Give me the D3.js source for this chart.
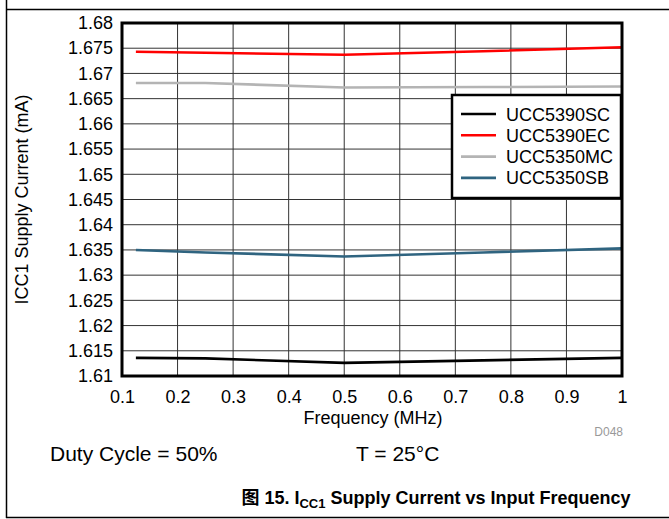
<!DOCTYPE html>
<html><head><meta charset="utf-8">
<script src="https://cdn.jsdelivr.net/npm/d3@7"></script>
<style>body{margin:0;background:#fff}svg{display:block}text{font-family:"Liberation Sans",Arial,sans-serif}</style>
</head><body><svg id="c" width="669" height="519"></svg>
<script>
const freq = [0.125, 0.25, 0.5, 0.75, 1.0];
const seriesNames = ["UCC5390SC", "UCC5390EC", "UCC5350MC", "UCC5350SB"];
const ucc5390sc = [1.6136, 1.6135, 1.6126, 1.6131, 1.6136];
const ucc5390ec = [1.6743, 1.6741, 1.6737, 1.6744, 1.6752];
const ucc5350mc = [1.6681, 1.6681, 1.6672, 1.6673, 1.6674];
const ucc5350sb = [1.6350, 1.6345, 1.6337, 1.6345, 1.6353];
const colors = ["#000000", "#ff0000", "#b4b4b4", "#2f6480"];
const xTicks = [0.1,0.2,0.3,0.4,0.5,0.6,0.7,0.8,0.9,1];
const yTicks = [1.61,1.615,1.62,1.625,1.63,1.635,1.64,1.645,1.65,1.655,1.66,1.665,1.67,1.675,1.68];
const xTickLabels = ["0.1","0.2","0.3","0.4","0.5","0.6","0.7","0.8","0.9","1"];
const yTickLabels = ["1.61","1.615","1.62","1.625","1.63","1.635","1.64","1.645","1.65","1.655","1.66","1.665","1.67","1.675","1.68"];
const allSeries = [ucc5390sc, ucc5390ec, ucc5350mc, ucc5350sb];

const svg = d3.select("#c");
const L = 122, R = 622, T = 23, B = 376;
const x = d3.scaleLinear().domain([0.1, 1]).range([L, R]);
const y = d3.scaleLinear().domain([1.61, 1.68]).range([B, T]);

// outer frame
svg.append("line").attr("x1",6.5).attr("x2",6.5).attr("y1",0).attr("y2",518).attr("stroke","#000").attr("stroke-width",1.5);
svg.append("line").attr("x1",6).attr("x2",669).attr("y1",9.5).attr("y2",9.5).attr("stroke","#000").attr("stroke-width",1.5);
svg.append("line").attr("x1",6).attr("x2",669).attr("y1",517.5).attr("y2",517.5).attr("stroke","#000").attr("stroke-width",1.5);

// grid
const g = svg.append("g");
g.selectAll(".vg").data(xTicks).join("line")
  .attr("x1",d=>x(d)).attr("x2",d=>x(d)).attr("y1",T).attr("y2",B)
  .attr("stroke","#333").attr("stroke-width",1);
g.selectAll(".hg").data(yTicks).join("line")
  .attr("x1",L).attr("x2",R).attr("y1",d=>y(d)).attr("y2",d=>y(d))
  .attr("stroke","#333").attr("stroke-width",1);

// axes labels via d3 axes
const xAxis = d3.axisBottom(x).tickValues(xTicks).tickFormat((d,i)=>xTickLabels[i]).tickSize(0).tickPadding(14);
const xa = svg.append("g").attr("transform",`translate(0,${B})`).call(xAxis);
xa.select(".domain").remove();
xa.selectAll("text").attr("font-size","18px").attr("fill","#000").attr("font-family","Liberation Sans, Arial, sans-serif");

const yAxis = d3.axisLeft(y).tickValues(yTicks).tickFormat((d,i)=>yTickLabels[i]).tickSize(0).tickPadding(9);
const ya = svg.append("g").attr("transform",`translate(${L},0)`).call(yAxis);
ya.select(".domain").remove();
ya.selectAll("text").attr("font-size","18px").attr("fill","#000").attr("font-family","Liberation Sans, Arial, sans-serif");

// lines
const line = d3.line().x((d,i)=>x(freq[i])).y(d=>y(d));
allSeries.forEach((s,k)=>{
  svg.append("path").datum(s).attr("d",line).attr("fill","none")
    .attr("stroke",colors[k]).attr("stroke-width",2.6).attr("stroke-linejoin","round");
});

// plot border
svg.append("rect").attr("x",L).attr("y",T).attr("width",R-L).attr("height",B-T)
  .attr("fill","none").attr("stroke","#000").attr("stroke-width",3);

// legend
const lg = svg.append("g");
lg.append("rect").attr("x",452).attr("y",95).attr("width",169).attr("height",103)
  .attr("fill","#fff").attr("stroke","#000").attr("stroke-width",2.5);
seriesNames.forEach((n,k)=>{
  const yy = 114 + k*21.3;
  lg.append("line").attr("x1",461).attr("x2",496).attr("y1",yy).attr("y2",yy).attr("stroke",colors[k]).attr("stroke-width",2.6);
  lg.append("text").attr("x",506).attr("y",yy+6.5).attr("font-size","18px").text(n);
});

// axis titles
svg.append("text").attr("x",373).attr("y",424).attr("text-anchor","middle").attr("font-size","18px").text("Frequency (MHz)");
svg.append("text").attr("transform",`translate(28,${(T+B)/2}) rotate(-90)`).attr("text-anchor","middle").attr("font-size","18px").text("ICC1 Supply Current (mA)");
svg.append("text").attr("x",623).attr("y",436).attr("text-anchor","end").attr("font-size","12px").attr("fill","#999").text("D048");

svg.append("text").attr("x",50).attr("y",461).attr("font-size","21px").text("Duty Cycle = 50%");
svg.append("text").attr("x",356).attr("y",461).attr("font-size","21px").text("T = 25°C");

const t = svg.append("text").attr("x",436).attr("y",504).attr("text-anchor","middle").attr("font-size","18px").attr("font-weight","bold");
t.append("tspan").attr("font-family","Noto Sans CJK SC").text("图");
t.append("tspan").text(" 15. I");
t.append("tspan").attr("font-size","13px").attr("dy",4).text("CC1");
t.append("tspan").attr("dy",-4).text(" Supply Current vs Input Frequency");
</script></body></html>
